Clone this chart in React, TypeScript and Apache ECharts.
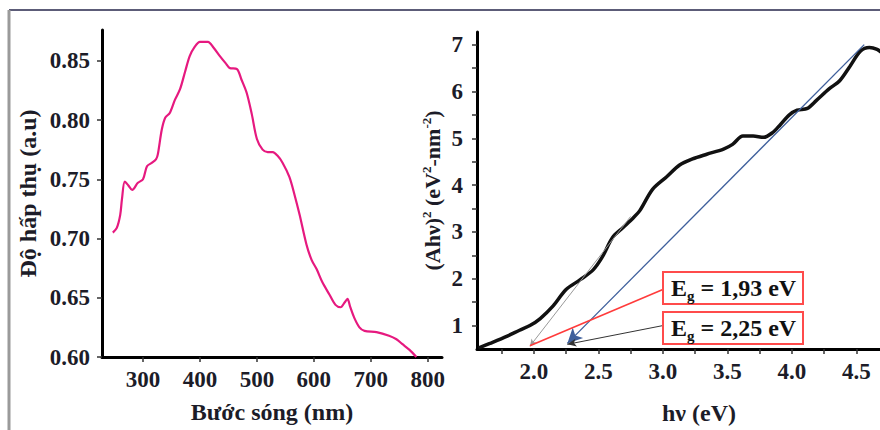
import React, { useEffect, useRef } from "react";
import * as echarts from "echarts";

// ---- Left panel: absorption spectrum ----
const wavelengths = [247, 254, 260, 263, 268, 274, 281, 291, 300, 307, 316, 323, 326, 333, 339, 347, 356, 365, 374, 382, 391, 400, 414, 424, 435, 445, 452, 465, 473, 482, 491, 500, 510, 519, 528, 536, 545, 557, 566, 575, 587, 596, 605, 615, 627, 638, 647, 654, 659, 664, 671, 680, 689, 710, 732, 745, 755, 768, 780];
const absorbance = [0.705, 0.709, 0.72, 0.733, 0.748, 0.745, 0.741, 0.747, 0.75, 0.761, 0.764, 0.767, 0.771, 0.792, 0.802, 0.806, 0.817, 0.826, 0.841, 0.854, 0.862, 0.866, 0.866, 0.861, 0.854, 0.848, 0.844, 0.843, 0.834, 0.823, 0.805, 0.784, 0.775, 0.773, 0.773, 0.77, 0.764, 0.752, 0.737, 0.72, 0.695, 0.682, 0.674, 0.663, 0.653, 0.644, 0.642, 0.646, 0.649, 0.642, 0.633, 0.625, 0.622, 0.621, 0.618, 0.615, 0.611, 0.606, 0.6];
const leftXTicks = [300, 400, 500, 600, 700, 800];
const leftYTicks = [0.6, 0.65, 0.7, 0.75, 0.8, 0.85];

// ---- Right panel: Tauc plot ----
const energy = [1.57, 1.66, 1.79, 1.89, 1.97, 2.05, 2.15, 2.25, 2.36, 2.46, 2.53, 2.61, 2.69, 2.77, 2.82, 2.92, 3.03, 3.13, 3.23, 3.34, 3.47, 3.54, 3.62, 3.7, 3.78, 3.85, 3.91, 3.98, 4.04, 4.12, 4.19, 4.29, 4.37, 4.45, 4.53, 4.6, 4.66, 4.7];
const tauc = [0.52, 0.62, 0.77, 0.9, 1.0, 1.15, 1.42, 1.77, 1.98, 2.19, 2.46, 2.88, 3.09, 3.3, 3.45, 3.91, 4.18, 4.43, 4.56, 4.66, 4.77, 4.87, 5.05, 5.05, 5.02, 5.12, 5.29, 5.5, 5.6, 5.64, 5.81, 6.06, 6.23, 6.54, 6.86, 6.94, 6.9, 6.82];
const rightXLabels = [2.0, 2.5, 3.0, 3.5, 4.0, 4.5];
const rightXTicks = [1.75, 2.0, 2.25, 2.5, 2.75, 3.0, 3.25, 3.5, 3.75, 4.0, 4.25, 4.5, 4.75];
const rightYLabels = [1, 2, 3, 4, 5, 6, 7];
const rightYTicks = [1, 1.5, 2, 2.5, 3, 3.5, 4, 4.5, 5, 5.5, 6, 6.5, 7];

// tangent / annotation lines (data coordinates: [start, end])
const blueTangent = [[4.56, 7.0], [2.26, 0.62]];
const grayTangent = [[2.75, 3.33], [1.97, 0.56]];
const redPointer = [[3.0, 1.77], [1.97, 0.57]];
const blackPointer = [[3.0, 1.0], [2.26, 0.6]];
const gapLabels = ["1,93 eV", "2,25 eV"];

const SERIF = "'Liberation Serif', 'DejaVu Serif', serif";
const TXT = "#1c1c28";
const TICK_FONT = 23;
const NAME_FONT = 24;

function axisCommon(extra: any) {
  return {
    type: "value",
    splitLine: { show: false },
    axisLine: { show: true, onZero: false, lineStyle: { color: "#000", width: 3 } },
    nameTextStyle: { fontFamily: SERIF, fontWeight: "bold", fontSize: NAME_FONT, color: TXT },
    ...extra,
  };
}

function labelStyle(margin: number, values: number[], formatter?: (v: number) => string) {
  const s: any = { fontFamily: SERIF, fontWeight: "bold", fontSize: TICK_FONT, color: TXT, margin, customValues: values };
  if (formatter) s.formatter = formatter;
  return s;
}

function tickStyle(values: number[]) {
  return { show: true, length: 5, lineStyle: { color: "#333", width: 1.5 }, customValues: values };
}

function pointerSeries(seg: number[][], color: string, width: number, arrowSize: any, arrowColor: string) {
  return {
    type: "line",
    xAxisIndex: 1,
    yAxisIndex: 1,
    data: [],
    silent: true,
    markLine: {
      silent: true,
      animation: false,
      symbol: ["none", "arrow"],
      symbolSize: arrowSize,
      label: { show: false },
      emphasis: { disabled: true },
      lineStyle: { color, width, type: "solid" },
      itemStyle: { color: arrowColor },
      data: [[{ coord: seg[0] }, { coord: seg[1], itemStyle: { color: arrowColor } }]],
    },
  };
}

function boxText(label: string, x: number, y: number) {
  return [
    {
      type: "rect",
      shape: { x, y, width: 140, height: 32 },
      style: { fill: "#fff", stroke: "#ff4b4b", lineWidth: 2 },
      z: 100,
    },
    {
      type: "text",
      x: x + 8,
      y: y + 16,
      z: 101,
      style: {
        text: "{e|E}{g|g}{e| = " + label + "}",
        verticalAlign: "middle",
        rich: {
          e: { fontFamily: SERIF, fontWeight: "bold", fontSize: 24, fill: "#111", lineHeight: 30, verticalAlign: "middle" },
          g: { fontFamily: SERIF, fontWeight: "bold", fontSize: 15, fill: "#111", lineHeight: 30, verticalAlign: "bottom" },
        },
      },
    },
  ];
}

export default function App() {
  const ref = useRef<HTMLDivElement>(null);
  useEffect(() => {
    if (!ref.current) return;
    const chart = echarts.init(ref.current, null, { renderer: "svg" });
    const option: any = {
      animation: false,
      backgroundColor: "#fff",
      grid: [
        { left: 102, top: 30, width: 340, height: 327 },
        { left: 477, top: 32, width: 444, height: 323 },
      ],
      xAxis: [
        axisCommon({
          gridIndex: 0,
          min: 228,
          max: 825,
          name: "Bước sóng (nm)",
          nameLocation: "middle",
          nameGap: 43,
          axisLabel: labelStyle(11, leftXTicks),
          axisTick: tickStyle(leftXTicks),
        }),
        axisCommon({
          gridIndex: 1,
          min: 1.56,
          max: 5.0,
          name: "hν (eV)",
          nameLocation: "middle",
          nameGap: 52,
          axisLabel: labelStyle(11, rightXLabels, (v: number) => v.toFixed(1)),
          axisTick: tickStyle(rightXTicks),
        }),
      ],
      yAxis: [
        axisCommon({
          gridIndex: 0,
          min: 0.6,
          max: 0.876,
          name: "Độ hấp thụ (a.u)",
          nameLocation: "middle",
          nameGap: 62,
          axisLabel: labelStyle(12, leftYTicks, (v: number) => v.toFixed(2)),
          axisTick: tickStyle(leftYTicks),
        }),
        axisCommon({
          gridIndex: 1,
          min: 0.5,
          max: 7.27,
          name: "(Ahν){s|2} (eV{s|2}-nm{s|-2})",
          nameLocation: "middle",
          nameGap: 33,
          nameTextStyle: {
            fontFamily: SERIF, fontWeight: "bold", fontSize: 22, color: TXT,
            rich: {
              s: { fontFamily: SERIF, fontWeight: "bold", fontSize: 13, color: TXT, verticalAlign: "top", lineHeight: 24 },
            },
          },
          axisLabel: labelStyle(14, rightYLabels),
          axisTick: tickStyle(rightYTicks),
        }),
      ],
      series: [
        {
          type: "line",
          xAxisIndex: 0,
          yAxisIndex: 0,
          data: wavelengths.map((w, i) => [w, absorbance[i]]),
          showSymbol: false,
          symbol: "none",
          smooth: 0.3,
          lineStyle: { color: "#e6197f", width: 2.2 },
          silent: true,
        },
        pointerSeries(grayTangent, "#9a9a9a", 1, [5, 7], "#222"),
        pointerSeries(blueTangent, "#3e5f9c", 1.3, [11, 15], "#1b3a8c"),
        pointerSeries(redPointer, "#ff3b3b", 1.6, 0.1, "#ff3b3b"),
        pointerSeries(blackPointer, "#333", 1, [6, 9], "#222"),
        {
          type: "line",
          xAxisIndex: 1,
          yAxisIndex: 1,
          data: energy.map((e, i) => [e, tauc[i]]),
          showSymbol: false,
          symbol: "none",
          smooth: 0.3,
          lineStyle: { color: "#111", width: 3.5 },
          silent: true,
          z: 3,
        },
      ],
      graphic: [
        { type: "line", shape: { x1: 9, y1: 10, x2: 930, y2: 10 }, style: { stroke: "#5c5c78", lineWidth: 2 } },
        { type: "line", shape: { x1: 9, y1: 10, x2: 9, y2: 430 }, style: { stroke: "#9a9a9a", lineWidth: 3 } },
        ...boxText(gapLabels[0], 663, 272),
        ...boxText(gapLabels[1], 663, 312),
      ],
    };
    chart.setOption(option);
    return () => chart.dispose();
  }, []);
  return (
    <div style={{ position: "fixed", left: 0, top: 0, width: 880, height: 430, overflow: "hidden", background: "#fff" }}>
      <div ref={ref} style={{ width: 930, height: 430 }} />
    </div>
  );
}
